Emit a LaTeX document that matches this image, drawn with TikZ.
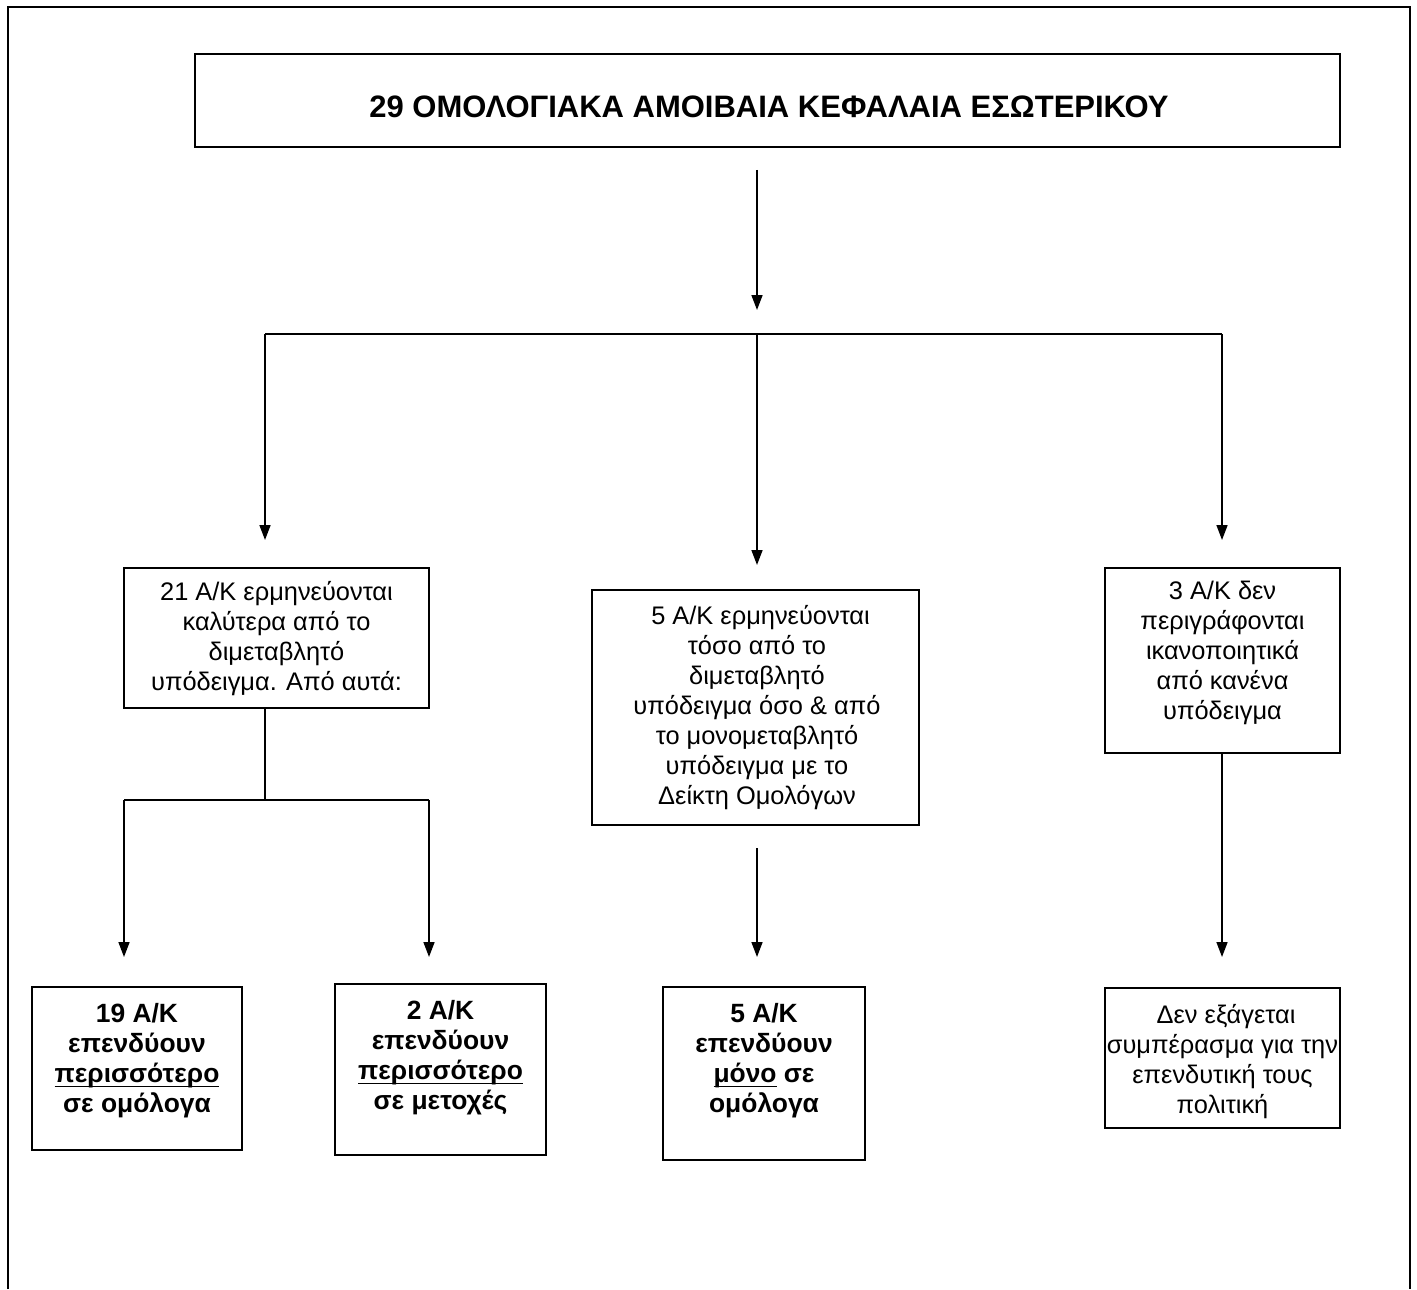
\documentclass[tikz,border=0pt]{standalone}
\usepackage{fontspec}
\setmainfont{Liberation Sans}
\usetikzlibrary{arrows.meta}
\newcommand{\myul}[1]{{\setbox0\hbox{#1}\rlap{\rule[-2.3pt]{\wd0}{0.7pt}}\box0}}
\tikzset{
  frameline/.style={line width=1.1pt},
  conn/.style={line width=0.8pt},
  arr/.style={conn,-{Triangle[length=7.5pt,width=5.5pt]}},
  boxframe/.style={draw,line width=0.8pt,rectangle,inner sep=0pt},
  txt/.style={align=center,anchor=north,inner sep=0pt,font=\fontsize{12.7}{15}\selectfont},
  btxt/.style={txt,font=\fontsize{13.2}{15}\selectfont\bfseries},
}
\begin{document}
\begin{tikzpicture}[x=0.5pt,y=-0.5pt]
\useasboundingbox (0,0) rectangle (1417,1289);
% outer frame
\draw[frameline] (8,1289) -- (8,7) -- (1410,7) -- (1410,1289);
% boxes
\node[boxframe,minimum width=572.5pt,minimum height=46.5pt] (title) at (767.5,100.5) {};
\node[font=\fontsize{15.5}{17}\selectfont\bfseries,inner sep=0pt] (titletxt) at (769,107) {29 ΟΜΟΛΟΓΙΑΚΑ ΑΜΟΙΒΑΙΑ ΚΕΦΑΛΑΙΑ ΕΣΩΤΕΡΙΚΟΥ};
\node[boxframe,minimum width=152.5pt,minimum height=70pt] (boxA) at (276.5,638) {};
\node[boxframe,minimum width=163.5pt,minimum height=117.5pt] (boxB) at (755.5,707.5) {};
\node[boxframe,minimum width=117.5pt,minimum height=92.5pt] (boxC) at (1222.5,660.5) {};
\node[boxframe,minimum width=105pt,minimum height=81.5pt] (boxD) at (137,1068.5) {};
\node[boxframe,minimum width=105.5pt,minimum height=85.5pt] (boxE) at (440.5,1069.5) {};
\node[boxframe,minimum width=101pt,minimum height=86.5pt] (boxF) at (764,1073.5) {};
\node[boxframe,minimum width=117.5pt,minimum height=70pt] (boxG) at (1222.5,1058) {};
% texts
\node[txt] (tA) at (276.5,581) {21 Α/Κ ερμηνεύονται\\καλύτερα από το\\διμεταβλητό\\υπόδειγμα. Από αυτά:};
\node[txt] (tB) at (757,605) {\ 5 Α/Κ ερμηνεύονται\\τόσο από το\\διμεταβλητό\\υπόδειγμα όσο \& από\\το μονομεταβλητό\\υπόδειγμα με το\\Δείκτη Ομολόγων};
\node[txt] (tC) at (1222.5,581) {3 Α/Κ δεν\\περιγράφονται\\ικανοποιητικά\\από κανένα\\υπόδειγμα};
\node[btxt] (tD) at (137,1003) {19 Α/Κ\\επενδύουν\\\myul{περισσότερο}\\σε ομόλογα};
\node[btxt] (tE) at (440.5,1000) {2 Α/Κ\\επενδύουν\\\myul{περισσότερο}\\σε μετοχές};
\node[btxt] (tF) at (764,1003) {5 Α/Κ\\επενδύουν\\\myul{μόνο} σε\\ομόλογα};
\node[txt] (tG) at (1222.5,1004) {\ Δεν εξάγεται\\συμπέρασμα για την\\επενδυτική τους\\πολιτική};
% connector points
\coordinate (t0) at (757,170);
\coordinate (t1) at (757,310);
\coordinate (hL) at (265,334);
\coordinate (hM) at (757,334);
\coordinate (hR) at (1222,334);
\coordinate (aL) at (265,540);
\coordinate (aM) at (757,565);
\coordinate (aR) at (1222,540);
\coordinate (sA) at (265,800);
\coordinate (sL) at (124,800);
\coordinate (sR) at (429,800);
\coordinate (eL) at (124,957);
\coordinate (eR) at (429,957);
\coordinate (m0) at (757,848);
\coordinate (m1) at (757,957);
\coordinate (r1) at (1222,957);
% connectors
\draw[arr] (t0) -- (t1);
\draw[conn] (hL) -- (hR);
\draw[arr] (hL) -- (aL);
\draw[arr] (hM) -- (aM);
\draw[arr] (hR) -- (aR);
\draw[conn] (boxA.south -| sA) -- (sA);
\draw[conn] (sL) -- (sR);
\draw[arr] (sL) -- (eL);
\draw[arr] (sR) -- (eR);
\draw[arr] (m0) -- (m1);
\draw[arr] (boxC.south -| r1) -- (r1);
\end{tikzpicture}
\end{document}
